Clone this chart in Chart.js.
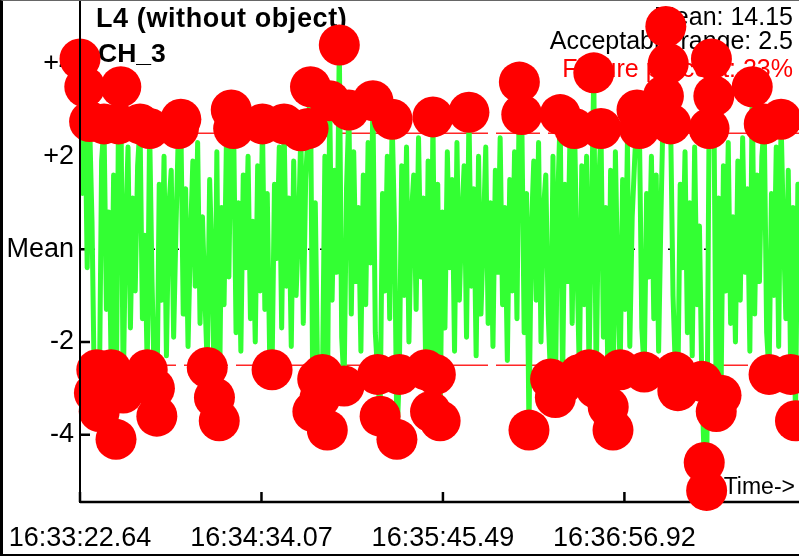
<!DOCTYPE html>
<html lang="en">
<head>
  <meta charset="UTF-8" />
  <title>L4 (without object) - CH_3</title>
  <script src="https://cdn.jsdelivr.net/npm/chart.js"></script>
  <style>
    body { margin: 0; background: #fff; }
    #wrap { position: relative; width: 799px; height: 556px; overflow: hidden; }
    #chartCanvas { display: block; }
    #frame {
      position: absolute; left: 0; top: 0; width: 799px; height: 556px;
      box-sizing: border-box; pointer-events: none;
      border-left: 3px solid #000; border-top: 1px solid #666; border-bottom: 2px solid #000;
    }
  </style>
</head>
<body>
  <div id="wrap">
    <canvas id="chartCanvas" width="799" height="556"></canvas>
    <div id="frame"></div>
  </div>

  <script>
    // Textos del gráfico
    const titleLines = ['L4 (without object)', 'CH_3'];
    const infoLines = ['Mean: 14.15', 'Acceptable range: 2.5'];
    const failureText = 'Failure percent: 23%';
    const axisText = 'Time->';

    const acceptableRange = 2.5;
    const sampleStep = 0.945; // segundos entre muestras
    const xTickSeconds = [0, 71.43, 142.85, 214.28];
    const xTickLabels = ['16:33:22.64', '16:34:34.07', '16:35:45.49', '16:36:56.92'];
    const yTickValues = [4, 2, 0, -2, -4];
    const yTickLabels = ['+4', '+2', 'Mean', '-2', '-4'];

    // Desviación respecto a la media
    const deviation = [
      4.1, 1.2, 3.5, -0.4, 2.75, 0.6, -3.1, -2.6, -3.5, 1.9, 2.7, -1.3, 0.8, -2.6, 1.6, -4.1, 2.7, 3.5, -3.1, 0.4,
      2.2, -1.7, 1.1, -0.9, 1.8, 2.7, -1.5, 0.3, -2.6, 2.6, -0.7, -3.0, -3.6, 1.4, -1.1, 2.0, -2.3, 0.9, 1.7, -1.9,
      0.5, 2.6, 2.8, -1.4, 1.3, -2.1, 0.2, 1.9, -0.8, 2.3, -1.6, 0.7, -1.0, -2.55, 1.5, -0.3, -3.2, 2.1, -3.7, 0.9,
      -1.2, 2.4, -0.6, 3.0, 2.6, -1.8, 1.0, -2.2, 1.6, -0.4, 2.0, -1.5, 0.6, -2.0, 1.8, -0.9, 2.7, -1.3, 1.2, -2.3,
      -2.6, 1.4, -0.2, 2.2, -1.7, 2.7, -0.8, 1.1, -2.1, 1.9, -1.0, 0.4, 2.55, -1.6, 1.5, 2.6, 3.5, -3.5, 1.0, -2.8,
      -3.2, -2.7, 2.0, -3.9, 3.2, -1.1, 1.7, -0.5, 4.4, -1.9, -2.95, 1.3, 3.0, -1.4, 2.1, -0.7, 0.9, -2.2, 1.6, -1.2,
      2.3, -0.3, 3.2, -1.8, -2.7, -3.6, 1.2, -0.9, 2.0, -1.5, 2.8, 0.5, -4.1, -2.7, 1.8, -1.0, 2.2, -2.0, 0.7, 1.6,
      -1.3, 2.4, -0.6, 1.1, -2.6, 1.9, -3.5, 2.85, -2.7, 1.4, -3.7, 0.8, -1.7, 2.1, -0.4, 1.5, -2.2, 2.3, -1.1, 0.6,
      1.8, -1.9, 2.95, -0.8, 1.3, -2.3, 2.0, -1.4, 0.3, 2.2, -1.6, 1.0, -2.1, 1.7, -0.5, 2.4, -1.2, 0.9, -2.4, 1.5,
      -0.9, 2.1, -1.5, 3.6, 2.9, -1.8, 1.2, -3.9, 0.4, 1.9, -1.1, 2.3, -2.0, 0.8, 1.6, -1.4, -2.8, 2.0, -3.2, 1.1,
      2.9, -2.9, 1.4, -0.7, 2.2, -1.6, 2.6, -0.3, -2.7, 1.8, -1.2, 2.0, -2.6, 0.6, 3.8, -3.0, 1.3, 2.6, -1.9, 0.9,
      -3.4, 1.7, -3.9, 2.1, -0.8, -2.6, 1.5, -1.3, 2.3, -2.1, 0.7, 1.9, 3.0, 2.6, -1.7, -2.65, 1.2, -0.6, 2.0, -1.5,
      1.6, -2.2, 0.8, 3.3, 4.8, 4.0, 2.7, -1.0, -2.65, -3.05, 1.4, -0.4, 2.1, -1.8, 1.0, -2.3, 2.2, -1.2, 0.5, -2.85,
      -4.6, -5.2, 2.6, 4.1, 3.3, -3.5, 1.1, -3.15, 1.8, -0.9, 2.3, -1.6, 0.7, -2.0, 1.9, -1.1, 2.4, -0.5, 1.3, -2.2,
      3.5, -1.4, 1.6, -0.7, 2.0, 2.7, -1.8, -2.7, 1.2, -1.0, 2.2, -2.1, 2.8, 0.4, -1.5, 1.7, -2.7, 0.9, -3.7, 1.4
    ];

    const FONT = '"Liberation Sans", Arial, sans-serif';
    const points = deviation.map((v, i) => ({ x: i * sampleStep, y: v }));
    const xMax = 283;

    // quitar el relleno automático que Chart.js añade por las etiquetas
    const noPad = s => {
      s.paddingTop = 0; s.paddingBottom = 0; s.paddingLeft = 0; s.paddingRight = 0;
    };

    // Textos y ejes dibujados con las escalas del gráfico
    const decoPlugin = {
      id: 'deco',
      beforeDatasetsDraw(chart) {
        const c = chart.ctx;
        const xs = chart.scales.x, ys = chart.scales.y;
        const area = chart.chartArea;
        c.save();
        c.fillStyle = '#000';
        c.textAlign = 'left';
        c.textBaseline = 'alphabetic';
        c.font = 'bold 27px ' + FONT;
        c.letterSpacing = '0.6px';
        c.fillText(titleLines[0], 96, 27);
        c.letterSpacing = '0px';
        c.font = 'bold 26.5px ' + FONT;
        c.fillText(titleLines[1], 98, 62);
        c.textAlign = 'right';
        c.font = '25px ' + FONT;
        c.fillText(infoLines[0], 793, 25);
        c.fillText(infoLines[1], 793, 49);
        c.fillStyle = '#ff0000';
        c.fillText(failureText, 793, 77);
        c.fillStyle = '#000';
        c.font = '23px ' + FONT;
        c.fillText(axisText, 795, 494);

        // eje x y marcas
        c.strokeStyle = '#000';
        c.lineWidth = 2.5;
        c.beginPath();
        c.moveTo(area.left, area.bottom);
        c.lineTo(area.right, area.bottom);
        xTickSeconds.forEach(s => {
          const px = xs.getPixelForValue(s);
          c.moveTo(px, area.bottom);
          c.lineTo(px, area.bottom - 10);
        });
        yTickValues.forEach(v => {
          const py = ys.getPixelForValue(v);
          c.moveTo(area.left, py);
          c.lineTo(area.left + 10, py);
        });
        c.stroke();
        c.restore();
      },
      afterDatasetsDraw(chart) {
        const c = chart.ctx;
        const area = chart.chartArea;
        c.save();
        c.strokeStyle = '#000';
        c.lineWidth = 2;
        c.beginPath();
        c.moveTo(area.left, area.top);
        c.lineTo(area.left, area.bottom + 1);
        c.stroke();
        c.restore();
      }
    };

    const ctx = document.getElementById('chartCanvas').getContext('2d');
    const chart = new Chart(ctx, {
      type: 'line',
      data: {
        datasets: [
          {
            label: 'CH_3',
            data: points,
            borderColor: '#33ff33',
            borderWidth: 5,
            borderCapStyle: 'round',
            borderJoinStyle: 'round',
            tension: 0,
            pointRadius: c => Math.abs(c.raw.y) > acceptableRange ? 20.5 : 0,
            pointHoverRadius: c => Math.abs(c.raw.y) > acceptableRange ? 20.5 : 0,
            pointBackgroundColor: '#ff0000',
            pointBorderWidth: 0,
            clip: false,
            order: 1
          },
          {
            label: 'upper',
            data: [{ x: 0, y: acceptableRange }, { x: xMax, y: acceptableRange }],
            borderColor: 'rgba(255,0,0,0.85)',
            borderWidth: 1.5,
            borderDash: [44, 8],
            pointRadius: 0,
            order: 3
          },
          {
            label: 'lower',
            data: [{ x: 0, y: -acceptableRange }, { x: xMax, y: -acceptableRange }],
            borderColor: 'rgba(255,0,0,0.85)',
            borderWidth: 1.5,
            borderDash: [44, 8],
            pointRadius: 0,
            order: 3
          },
          {
            label: 'mean',
            data: [{ x: 0, y: 0 }, { x: xMax, y: 0 }],
            borderColor: '#000',
            borderWidth: 1.5,
            borderDash: [3, 9],
            pointRadius: 0,
            order: 4
          }
        ]
      },
      options: {
        responsive: false,
        animation: false,
        devicePixelRatio: 1,
        layout: { padding: 0, autoPadding: false },
        plugins: { legend: { display: false }, tooltip: { enabled: false } },
        scales: {
          x: {
            type: 'linear',
            min: 0,
            max: xMax,
            grid: { display: false, drawTicks: false },
            border: { display: false },
            afterBuildTicks: s => { s.ticks = xTickSeconds.map(v => ({ value: v })); },
            afterFit: s => { s.height = 54; noPad(s); },
            ticks: {
              autoSkip: false,
              maxRotation: 0,
              padding: 20,
              color: '#000',
              font: { family: FONT, size: 27 },
              callback: (v, i) => xTickLabels[i]
            }
          },
          y: {
            min: -5.45,
            max: 5.37,
            grid: { display: false, drawTicks: false },
            border: { display: false },
            afterBuildTicks: s => { s.ticks = yTickValues.map(v => ({ value: v })); },
            afterFit: s => { s.width = 80; noPad(s); },
            ticks: {
              padding: 6,
              color: '#000',
              font: { family: FONT, size: 27 },
              callback: v => yTickLabels[yTickValues.indexOf(v)]
            }
          }
        }
      },
      plugins: [decoPlugin]
    });
  </script>
</body>
</html>
